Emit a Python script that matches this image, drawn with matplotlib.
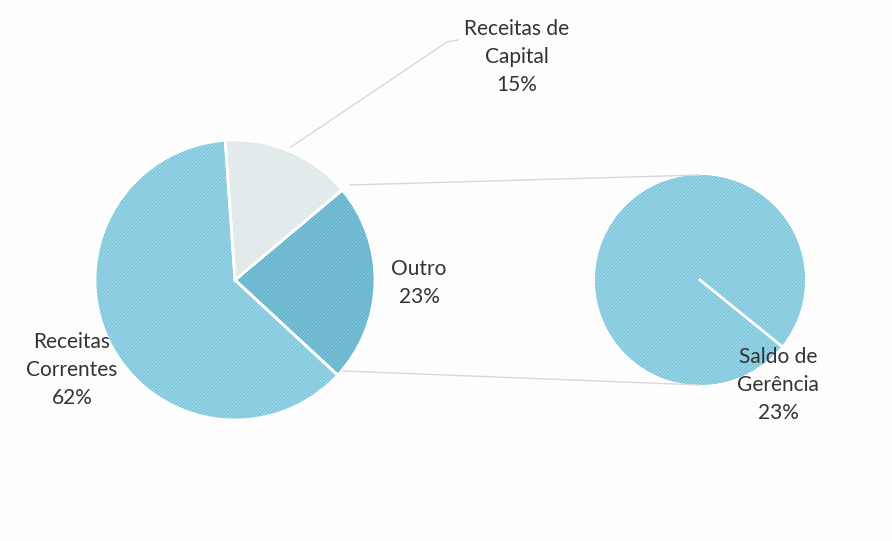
import numpy as np
import matplotlib.pyplot as plt

plt.rcParams["font.family"] = ["Lato", "DejaVu Sans"]
plt.rcParams["hatch.linewidth"] = 0.8

# main pie (clockwise from the top)
main_labels = ["Receitas de\nCapital", "Outro", "Receitas\nCorrentes"]
main_values = [15, 23, 62]
main_colors = ["#eef3f3", "#84c6da", "#a2d8e8"]
main_hatch = ["#d6e2e2", "#5aaec8", "#74c2d9"]

# secondary pie, breaks down "Outro"
sub_labels = ["Saldo de\nGerência"]
sub_values = [23]

H = 541
fig = plt.figure(figsize=(8.92, 5.41), dpi=100)
fig.patch.set_facecolor("#fdfdfd")
ax = fig.add_axes([0, 0, 1, 1])

c_main = (235, H - 280)
r_main = 140
c_sub = (700, H - 280)
r_sub = 105
start = 94
sub_start = -39

w1, _ = ax.pie(main_values, colors=main_colors, startangle=start, counterclock=False,
               center=c_main, radius=r_main, frame=True,
               wedgeprops=dict(linewidth=0, hatch="/" * 10))
for w, hc in zip(w1, main_hatch):
    w.set_edgecolor(hc)
ax.pie(main_values, startangle=start, counterclock=False, center=c_main, radius=r_main,
       frame=True, wedgeprops=dict(fill=False, edgecolor="white", linewidth=2))

w2, _ = ax.pie(sub_values, colors=[main_colors[2]], startangle=sub_start, center=c_sub,
               radius=r_sub, frame=True, wedgeprops=dict(linewidth=0, hatch="/" * 10))
w2[0].set_edgecolor(main_hatch[2])
# slice border of the single wedge
a = np.deg2rad(sub_start)
ax.plot([c_sub[0], c_sub[0] + r_sub * np.cos(a)], [c_sub[1], c_sub[1] + r_sub * np.sin(a)],
        color="white", lw=2)

ax.set_xlim(0, 892)
ax.set_ylim(0, H)
ax.set_aspect("equal")
ax.axis("off")

# connector lines to the secondary pie
ax.plot([350, 700], [H - 185, H - 175], color="#d8d8d8", lw=1)
ax.plot([343, 700], [H - 371, H - 385], color="#d8d8d8", lw=1)
# leader line for Capital label
ax.plot([291, 447, 458], [H - 147, H - 42, H - 40], color="#d8d8d8", lw=1)

total = sum(main_values)
txt = dict(fontsize=15, color="#333333", ha="center", va="center", linespacing=1.5)
pos_main = [(517, 57), (419, 283), (72, 370)]
for lab, v, (x, y) in zip(main_labels, main_values, pos_main):
    ax.text(x, H - y, f"{lab}\n{round(100 * v / total)}%", **txt)
for lab, v in zip(sub_labels, sub_values):
    ax.text(778, H - 385, f"{lab}\n{round(100 * v / total)}%", **txt)

fig.savefig("out.png", dpi=100, facecolor=fig.get_facecolor())
